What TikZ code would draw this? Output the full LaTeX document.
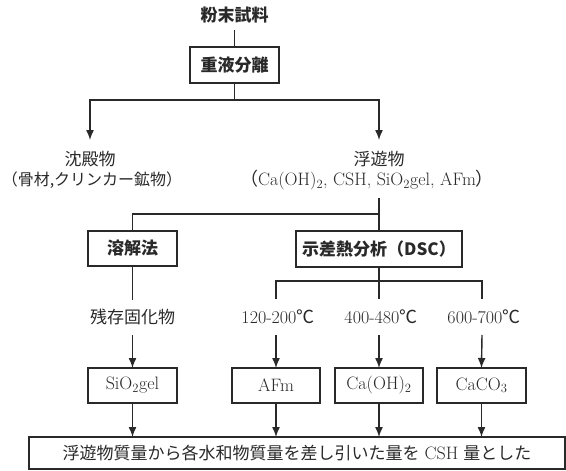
\documentclass[tikz,border=0pt]{standalone}
\usepackage{fontspec}
\newfontfamily\jp{Noto Sans CJK JP}
\usetikzlibrary{arrows.meta}
\definecolor{ink}{gray}{0.16}
\begin{document}
\begin{tikzpicture}[x=1pt,y=-1pt,
  every node/.style={inner sep=0pt, outer sep=0pt, text=ink, font=\fontsize{17pt}{20pt}\selectfont},
  box/.style={draw=ink, line width=1.5pt, minimum height=35pt},
  head/.style={font=\fontsize{17pt}{20pt}\selectfont\jp\bfseries},
  ln/.style={draw=ink, line width=1.4pt},
  arr/.style={draw=ink, line width=1.4pt, -{Latex[length=10pt,width=8pt]}},
  lat/.style={font=\fontsize{18pt}{21pt}\selectfont}]
\useasboundingbox (0,0) rectangle (566,471);
% top
\node[head] (src) at (234.5,15) {粉末試料};
\coordinate (srcout) at (234.5,30);
\node[box, head, minimum width=89pt, minimum height=36pt] (sep) at (234.5,65) {重液分離};
\coordinate (j1) at (234.5,100);
\coordinate (pptin) at (90,140);
\coordinate (fltin) at (379,140);
\draw[ln] (srcout) -- (sep.north);
\draw[ln] (sep.south) -- (j1);
\draw[arr] (j1) -| (pptin);
\draw[arr] (j1) -| (fltin);
% level 2
\node (ppt) at (90,159) {\jp 沈殿物};
\node[font=\fontsize{16pt}{20pt}\selectfont] (ppt2) at (92,180) {\jp （骨材,クリンカー鉱物）};
\node (flt) at (379,159) {\jp 浮遊物};
\node[lat] (flt2) at (367,180) {{\jp （}Ca(OH)\textsubscript{2}, CSH, SiO\textsubscript{2}gel, AFm{\jp ）}};
\coordinate (fltout) at (379,198);
\coordinate (j2) at (379,214);
% methods
\node[box, head, minimum width=89pt] (dis) at (132.5,248.5) {溶解法};
\node[box, head, minimum width=166pt, minimum height=36pt] (dsc) at (379,249) {示差熱分析（DSC）};
\draw[ln] (fltout) -- (dsc.north);
\draw[ln] (j2) -| (dis.north);
% dissolution branch
\coordinate (disout) at (132.5,300);
\node (resid) at (132.5,317) {\jp 残存固化物};
\coordinate (residout) at (132.5,335);
\draw[ln] (dis.south) -- (disout);
% DSC branch
\coordinate (j3) at (379,281);
\coordinate (c1) at (276,299);
\coordinate (c2) at (379,299);
\coordinate (c3) at (482,299);
\draw[ln] (dsc.south) -- (j3);
\draw[ln] (c1) |- (j3) -| (c3);
\draw[ln] (j3) -- (c2);
\node[lat] (t1) at (278,317) {120-200{\jp ℃}};
\node[lat] (t2) at (381,317) {400-480{\jp ℃}};
\node[lat] (t3) at (484,317) {600-700{\jp ℃}};
\coordinate (t1out) at (276,335);
\coordinate (t2out) at (379,335);
\coordinate (t3out) at (482,335);
% product boxes
\node[box, minimum width=89pt, lat] (sio) at (132.5,385.5) {SiO\textsubscript{2}gel};
\node[box, minimum width=88pt, lat] (afm) at (276,385.5) {AFm};
\node[box, minimum width=88pt, lat] (cah) at (379,385.5) {Ca(OH)\textsubscript{2}};
\node[box, minimum width=89pt, lat] (cac) at (481.5,385.5) {CaCO\textsubscript{3}};
\draw[arr] (residout) -- (sio.north);
\draw[arr] (t1out) -- (afm.north);
\draw[arr] (t2out) -- (cah.north);
\draw[arr] (t3out) -- (cac.north);
% final
\node[box, minimum width=536pt, minimum height=32pt] (fin) at (297,453) {{\jp 浮遊物質量から各水和物質量を差し引いた量を} {\fontsize{18pt}{21pt}\selectfont CSH} {\jp 量とした}};
\draw[arr] (sio.south) -- (sio.south |- fin.north);
\draw[arr] (afm.south) -- (afm.south |- fin.north);
\draw[arr] (cah.south) -- (cah.south |- fin.north);
\draw[arr] (cac.south) -- (cac.south |- fin.north);
\end{tikzpicture}
\end{document}
